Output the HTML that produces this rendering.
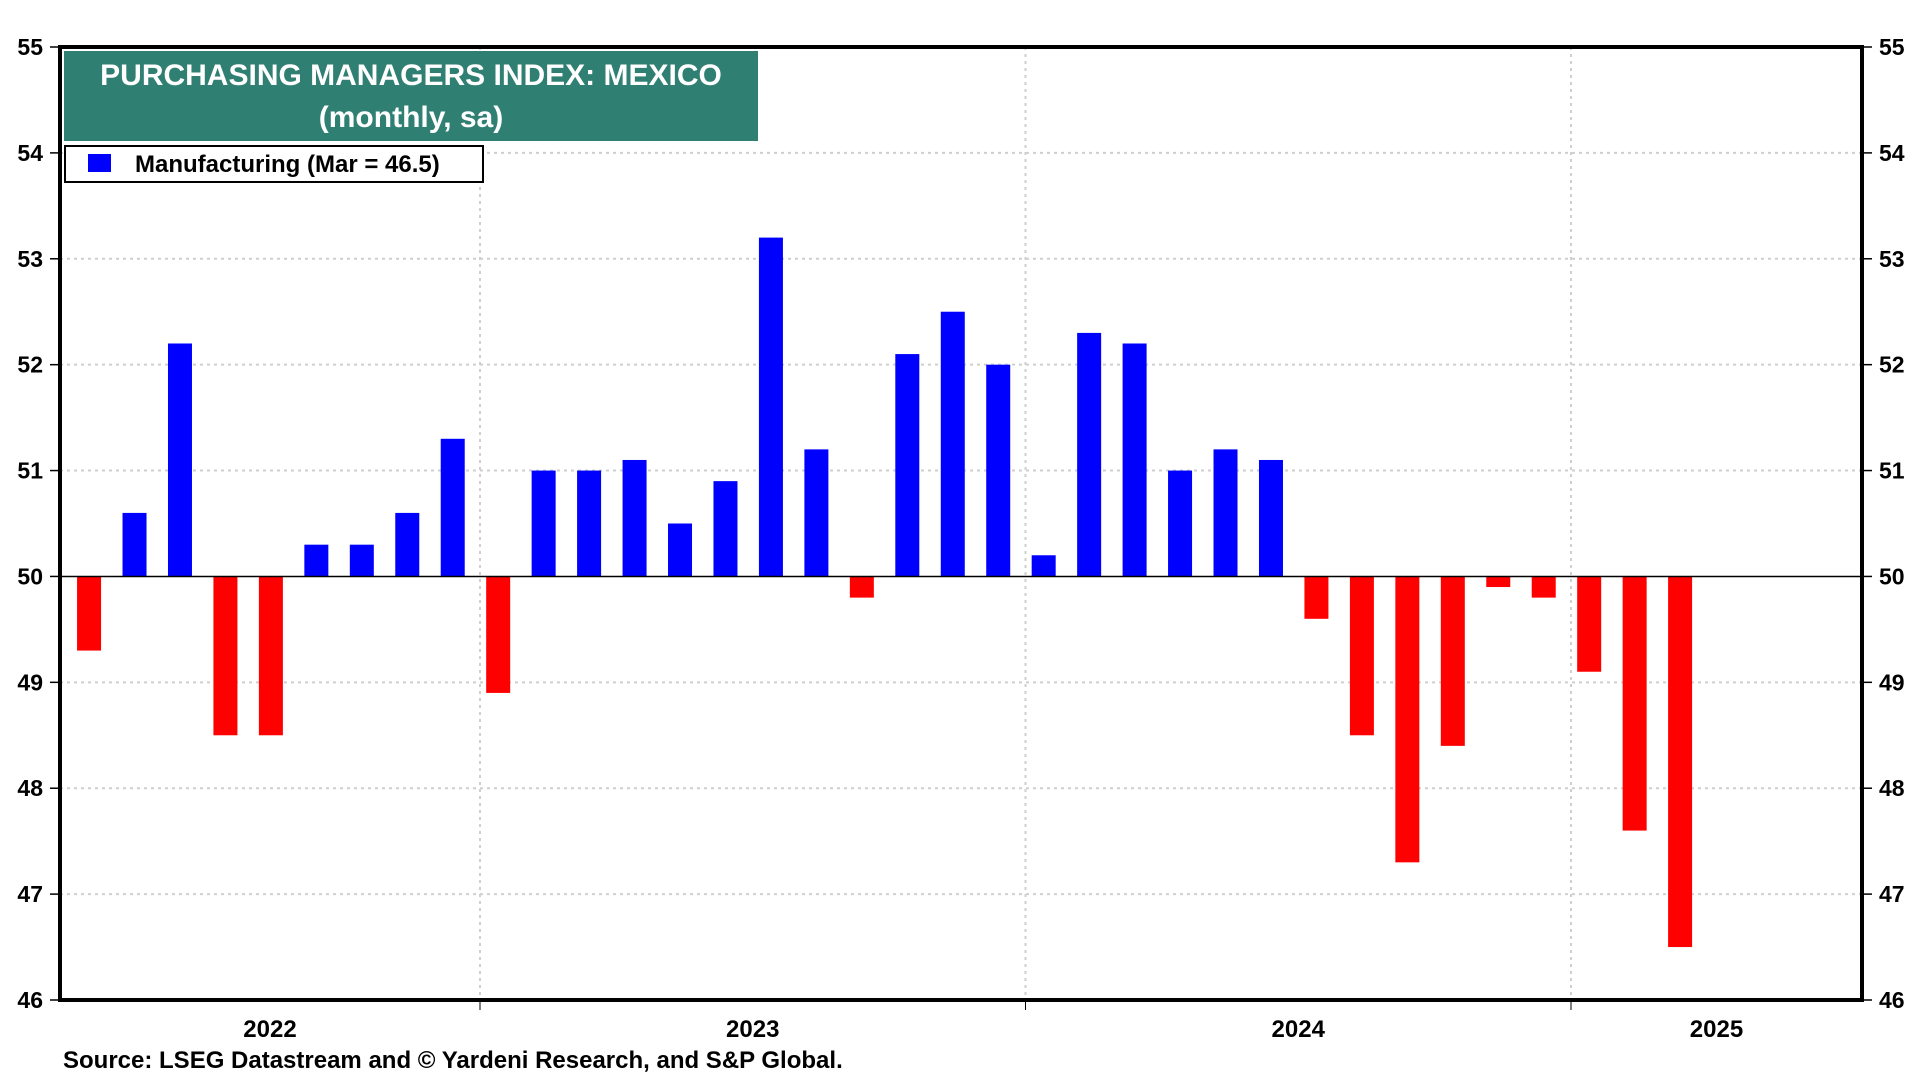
<!DOCTYPE html>
<html><head><meta charset="utf-8"><style>
html,body{margin:0;padding:0;background:#fff;width:1920px;height:1080px;overflow:hidden}
svg{display:block;font-family:"Liberation Sans",Arial,sans-serif;font-weight:bold}
</style></head><body>
<svg id="chart" width="1920" height="1080" xmlns="http://www.w3.org/2000/svg"></svg>
<script>
const months = ["2022-04","2022-05","2022-06","2022-07","2022-08","2022-09","2022-10","2022-11","2022-12","2023-01","2023-02","2023-03","2023-04","2023-05","2023-06","2023-07","2023-08","2023-09","2023-10","2023-11","2023-12","2024-01","2024-02","2024-03","2024-04","2024-05","2024-06","2024-07","2024-08","2024-09","2024-10","2024-11","2024-12","2025-01","2025-02","2025-03"];
const values = [49.3,50.6,52.2,48.5,48.5,50.3,50.3,50.6,51.3,48.9,51.0,51.0,51.1,50.5,50.9,53.2,51.2,49.8,52.1,52.5,52.0,50.2,52.3,52.2,51.0,51.2,51.1,49.6,48.5,47.3,48.4,49.9,49.8,49.1,47.6,46.5];
const yTicks = [46,47,48,49,50,51,52,53,54,55];
const years = ["2022","2023","2024","2025"];

const NS="http://www.w3.org/2000/svg";
const svg=document.getElementById('chart');
const L=60,R=1862,T=47,B=1000,yMin=46,yMax=55,base=50;
const monthW=545.5/12, jan2023X=480;
function y(v){return T+(yMax-v)*(B-T)/(yMax-yMin);}
function mIndex(s){const [yy,mm]=s.split('-').map(Number);return (yy-2023)*12+(mm-1);}
function x(s){return jan2023X+(mIndex(s)+0.4)*monthW;}
function yearX(yr){return jan2023X+(Number(yr)-2023)*12*monthW;}
function mk(tag,attrs,txt){const e=document.createElementNS(NS,tag);for(const k in attrs)e.setAttribute(k,attrs[k]);if(txt!==undefined)e.textContent=txt;svg.appendChild(e);return e;}

yTicks.forEach(t=>{
  if(t!==yMin&&t!==yMax&&t!==base){const g=mk('line',{x1:L,x2:R,y1:y(t),y2:y(t),stroke:'#cfcfcf','stroke-width':2,'stroke-dasharray':'3,4'});
  
  }
  const tl=mk('line',{x1:L-10,x2:L,y1:y(t),y2:y(t),stroke:'#000','stroke-width':1.5});
  
  
  const tr=mk('line',{x1:R,x2:R+10,y1:y(t),y2:y(t),stroke:'#000','stroke-width':1.5});
  
  
  const a=mk('text',{x:L-17,y:y(t)+8,'text-anchor':'end','font-size':23,fill:'#000'},String(t));
  
  
  const b=mk('text',{x:R+17,y:y(t)+8,'text-anchor':'start','font-size':23,fill:'#000'},String(t));
  
  
});
years.forEach((yr,i)=>{
  const xd=yearX(yr);
  if(xd>L&&xd<R){
    const g=mk('line',{x1:xd,x2:xd,y1:T,y2:B,stroke:'#cfcfcf','stroke-width':2,'stroke-dasharray':'3,4'});
    
    
    const tk=mk('line',{x1:xd,x2:xd,y1:B,y2:B+10,stroke:'#000','stroke-width':1});
    
    
  }
  const s=Math.max(L,xd), e=Math.min(R,yearX(Number(yr)+1));
  const t=mk('text',{x:(s+e)/2,y:B+37,'text-anchor':'middle','font-size':24,fill:'#000'},yr);
  
  
});
months.forEach((m,i)=>{
  const v=values[i];
  const top=Math.min(y(v),y(base)), h=Math.abs(y(v)-y(base));
  const r=mk('rect',{x:x(m)-12,y:top,width:24,height:h,fill:v>=base?'#0000ff':'#ff0000'});
  
  
});
const bl=mk('line',{x1:L,x2:R,y1:y(base),y2:y(base),stroke:'#000','stroke-width':1.5});


const fr=mk('rect',{x:L,y:T,width:R-L,height:B-T,fill:'none',stroke:'#000','stroke-width':4});


const tb=mk('rect',{x:64,y:51,width:694,height:90,fill:'#2f7f72'});


const t1=mk('text',{x:411,y:85,'text-anchor':'middle','font-size':30,fill:'#fff'},'PURCHASING MANAGERS INDEX: MEXICO');


const t2=mk('text',{x:411,y:127,'text-anchor':'middle','font-size':30,fill:'#fff'},'(monthly, sa)');


const lb=mk('rect',{x:65,y:146,width:418,height:36,fill:'#fff',stroke:'#000','stroke-width':2});


const ls=mk('rect',{x:88,y:154,width:23,height:18,fill:'#0000ff'});


const lt=mk('text',{x:135,y:172,'font-size':24,fill:'#000'},'Manufacturing (Mar = 46.5)');


const src=mk('text',{x:63,y:1068,'font-size':24,fill:'#000'},'Source: LSEG Datastream and © Yardeni Research, and S&P Global.');


</script>
</body></html>
